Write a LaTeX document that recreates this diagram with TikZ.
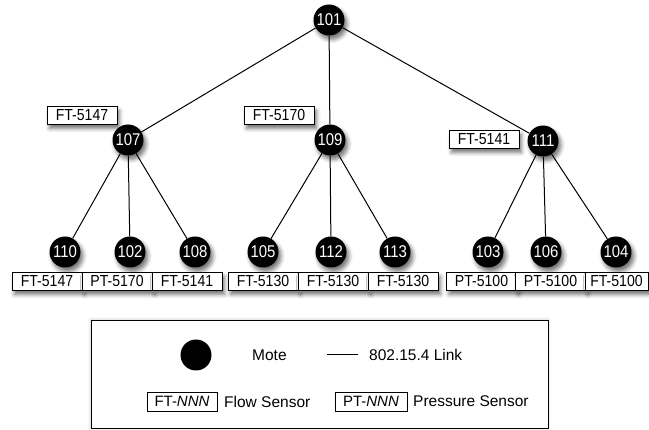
\documentclass[tikz,border=0pt]{standalone}
\usepackage{fontspec}
\setmainfont{Liberation Sans}
\newfontfamily\condfont{Liberation Sans}[FakeStretch=0.88]
\usetikzlibrary{shapes.geometric,shadows.blur,backgrounds}
\tikzset{
  mote/.style={circle, fill=black, inner sep=0pt, minimum size=31pt, text=white,
    font=\condfont\fontsize{17}{17}\selectfont,
    blur shadow={shadow xshift=2.5pt, shadow yshift=-4pt, shadow blur radius=4pt, shadow opacity=55}},
  sensor/.style={draw=black, line width=0.8pt, fill=white, inner sep=0pt, minimum height=18pt,
    minimum width=70pt, font=\condfont\fontsize{16}{16}\selectfont,
    blur shadow={shadow xshift=2.5pt, shadow yshift=-4.5pt, shadow blur radius=4pt, shadow opacity=55}},
  link/.style={draw=black, line width=1pt},
  legtext/.style={inner sep=0pt, anchor=west, font=\fontsize{15.5}{15.5}\selectfont},
}
\begin{document}
\begin{tikzpicture}[x=1pt,y=-1pt]
\useasboundingbox (0,0) rectangle (649,430);
% legend frame
\node[draw=black, line width=0.9pt, fill=white, minimum width=457pt, minimum height=108pt, inner sep=0pt,
  blur shadow={shadow xshift=0pt, shadow yshift=0pt, shadow blur radius=3pt, shadow opacity=25}] (legend) at (319.5,374) {};
% label boxes near inner motes
\node[sensor] (l107) at (82,115) {FT-5147};
\node[sensor] (l109) at (279,115) {FT-5170};
\node[sensor] (l111) at (484,139) {FT-5141};
% motes
\node[mote] (m101) at (329,20) {101};
\node[mote] (m107) at (128,140) {107};
\node[mote] (m109) at (330,140) {109};
\node[mote] (m111) at (543,141) {111};
\node[mote] (m110) at (65,252) {110};
\node[mote] (m102) at (130,252) {102};
\node[mote] (m108) at (195,252) {108};
\node[mote] (m105) at (263,252) {105};
\node[mote] (m112) at (331,252) {112};
\node[mote] (m113) at (395,252) {113};
\node[mote] (m103) at (488,252) {103};
\node[mote] (m106) at (546,252) {106};
\node[mote] (m104) at (616,252) {104};
% bottom sensor boxes
\node[sensor] (s110) at (47,281) {FT-5147};
\node[sensor] (s102) at (117,281) {PT-5170};
\node[sensor] (s108) at (187,281) {FT-5141};
\node[sensor] (s105) at (263,281) {FT-5130};
\node[sensor] (s112) at (333,281) {FT-5130};
\node[sensor] (s113) at (403,281) {FT-5130};
\node[sensor] (s103) at (481.5,281) {PT-5100};
\node[sensor] (s106) at (550.5,281) {PT-5100};
\node[sensor, minimum width=63pt] (s104) at (616.5,281) {FT-5100};
% links
\begin{scope}[on background layer]
\draw[link] (m101) -- (m107);
\draw[link] (m101) -- (m109);
\draw[link] (m101) -- (m111);
\draw[link] (m107) -- (m110);
\draw[link] (m107) -- (m102);
\draw[link] (m107) -- (m108);
\draw[link] (m109) -- (m105);
\draw[link] (m109) -- (m112);
\draw[link] (m109) -- (m113);
\draw[link] (m111) -- (m103);
\draw[link] (m111) -- (m106);
\draw[link] (m111) -- (m104);
\end{scope}
% legend content
\node[circle, fill=black, inner sep=0pt, minimum size=31pt] (legmote) at (196,355) {};
\node[legtext] (legmotetext) at (252,355) {Mote};
\coordinate (lla) at (327,355);
\coordinate (llb) at (358,355);
\draw[link] (lla) -- (llb);
\node[legtext] (leglinktext) at (369,355) {802.15.4 Link};
\node[draw=black, line width=0.8pt, inner sep=0pt, minimum width=70pt, minimum height=19pt,
  font=\fontsize{15}{15}\selectfont] (legft) at (182,401.5) {FT-\textit{NNN}};
\node[legtext] (legfttext) at (224,401.5) {Flow Sensor};
\node[draw=black, line width=0.8pt, inner sep=0pt, minimum width=72pt, minimum height=19pt,
  font=\fontsize{15}{15}\selectfont] (legpt) at (371,401.5) {PT-\textit{NNN}};
\node[legtext] (legpttext) at (413,401.5) {Pressure Sensor};
\end{tikzpicture}
\end{document}
